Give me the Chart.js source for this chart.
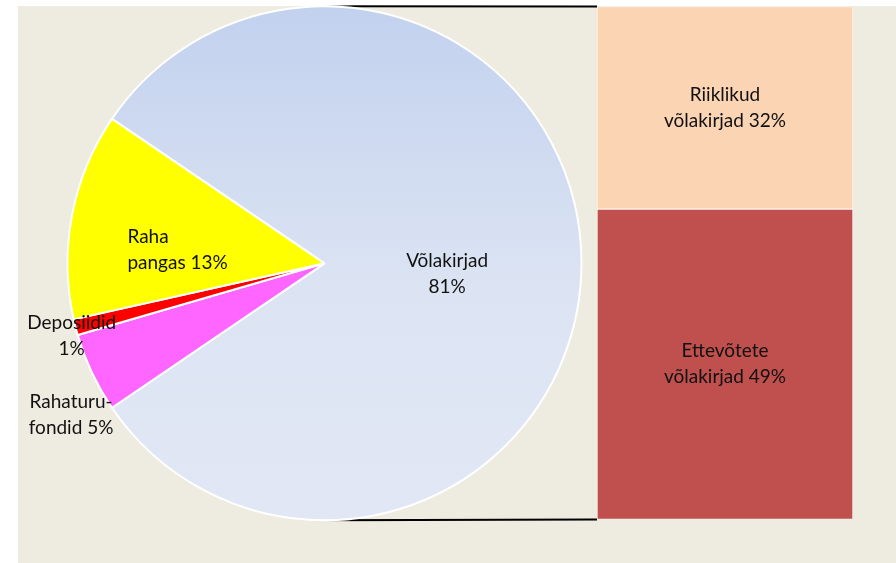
<!DOCTYPE html>
<html><head><meta charset="utf-8">
<script src="https://cdn.jsdelivr.net/npm/chart.js@4.4.1/dist/chart.umd.min.js"></script>
<style>
html,body{margin:0;padding:0;background:#fff;}
#wrap{position:relative;width:896px;height:563px;overflow:hidden;}
#bg{position:absolute;left:18px;top:6px;right:0;bottom:0;background:#EEEBE0;}
canvas{position:absolute;left:0;top:0;}
</style></head><body>
<div id="wrap"><div id="bg"></div>
<canvas id="bar" width="896" height="563"></canvas>
<canvas id="pie" width="896" height="563"></canvas>
</div>
<script>
// ---- data ----
const pieLabels = ['Võlakirjad', 'Rahaturufondid', 'Deposiidid', 'Raha pangas'];
const pieValues = [81, 5, 1, 13];
const pieLabelLines = [['Võlakirjad', ''], ['Rahaturu-', 'fondid'], ['Deposiidid', ''], ['Raha', 'pangas']];
const pieColors = ['#C3D2EE', '#FF66FF', '#FF0000', '#FFFF00'];

const barLabels = ['Riiklikud võlakirjad', 'Ettevõtete võlakirjad'];
const barValues = [32, 49];
const barLabelLines = [['Riiklikud', 'võlakirjad'], ['Ettevõtete', 'võlakirjad']];
const barColors = ['#FBD4B4', '#C0504D'];

const FONT = '19px Lato, "Open Sans", sans-serif';
const TEXT = '#111111';
const LINE_H = 26;

function labelText(lines, v) {
  return [lines[0], (lines[1] + ' ' + v + '%').trim()];
}

// ---- bar of pie: stacked bar ----
const barTotal = barValues.reduce((a, b) => a + b, 0);
const barDatasets = barValues.map((v, i) => ({
  label: barLabels[i], data: [v], backgroundColor: barColors[i],
  borderColor: 'rgba(255,255,255,0.55)', borderWidth: 1, borderSkipped: false,
  barPercentage: 1, categoryPercentage: 1, _idx: i
})).reverse();

const barLabelPlugin = {
  id: 'barLabels',
  afterDatasetsDraw(chart) {
    const ctx = chart.ctx;
    ctx.save();
    ctx.font = FONT; ctx.fillStyle = TEXT; ctx.textAlign = 'center'; ctx.textBaseline = 'middle';
    chart.data.datasets.forEach((ds, di) => {
      const el = chart.getDatasetMeta(di).data[0];
      const i = ds._idx;
      const mid = (el.y + el.base) / 2;
      const lines = labelText(barLabelLines[i], barValues[i]);
      ctx.fillText(lines[0], el.x, mid - LINE_H / 2);
      ctx.fillText(lines[1], el.x, mid + LINE_H / 2);
    });
    ctx.restore();
  }
};

const barChart = new Chart(document.getElementById('bar'), {
  type: 'bar',
  data: { labels: [''], datasets: barDatasets },
  options: {
    responsive: false, animation: false, devicePixelRatio: 1,
    layout: { padding: { left: 597, right: 43, top: 6.5, bottom: 43.5 } },
    scales: {
      x: { display: false, stacked: true },
      y: { display: false, stacked: true, min: 0, max: barTotal }
    },
    plugins: { legend: { display: false }, tooltip: { enabled: false } }
  },
  plugins: [barLabelPlugin]
});

// ---- pie ----
const R = 257;
const pieLabelPos = [
  { dx: 0.477, dy: 0.043, align: 'center' },
  { dx: -0.986, dy: 0.591, align: 'center' },
  { dx: -0.984, dy: 0.284, align: 'center' },
  { dx: -0.767, dy: -0.051, align: 'left' }
];

const connectorPlugin = {
  id: 'connectors',
  beforeDatasetsDraw(chart) {
    const el = chart.getDatasetMeta(0).data[0];
    if (!el) return;
    const cx = el.x, cy = el.y, r = el.outerRadius;
    const ca = barChart.chartArea;
    const ctx = chart.ctx;
    ctx.save();
    const g = ctx.createLinearGradient(cx, 0, cx + 28, 0);
    g.addColorStop(0, 'rgba(0,0,0,0)');
    g.addColorStop(1, 'rgba(0,0,0,1)');
    ctx.strokeStyle = g; ctx.lineWidth = 2;
    ctx.beginPath();
    ctx.moveTo(cx, cy - r); ctx.lineTo(ca.left, ca.top);
    ctx.moveTo(cx, cy + r); ctx.lineTo(ca.left, ca.bottom);
    ctx.stroke();
    ctx.restore();
  }
};

const pieLabelPlugin = {
  id: 'pieLabels',
  afterDatasetsDraw(chart) {
    const meta = chart.getDatasetMeta(0);
    const el0 = meta.data[0];
    const cx = el0.x, cy = el0.y, r = el0.outerRadius;
    const ctx = chart.ctx;
    ctx.save();
    ctx.font = FONT; ctx.fillStyle = TEXT; ctx.textBaseline = 'middle';
    pieValues.forEach((v, i) => {
      const p = pieLabelPos[i];
      const x = cx + p.dx * r, y = cy + p.dy * r;
      const lines = labelText(pieLabelLines[i], v);
      ctx.textAlign = p.align;
      ctx.fillText(lines[0], x, y - LINE_H / 2);
      ctx.fillText(lines[1], x, y + LINE_H / 2);
    });
    ctx.restore();
  }
};

new Chart(document.getElementById('pie'), {
  type: 'pie',
  data: {
    labels: pieLabels,
    datasets: [{
      data: pieValues,
      radius: R,
      backgroundColor: (c) => {
        if (c.dataIndex !== 0) return pieColors[c.dataIndex];
        const ca = c.chart.chartArea;
        if (!ca) return pieColors[0];
        const cy = (ca.top + ca.bottom) / 2;
        const g = c.chart.ctx.createLinearGradient(0, cy - R, 0, cy + R);
        g.addColorStop(0, '#C2D1EE');
        g.addColorStop(0.55, '#DCE4F3');
        g.addColorStop(1, '#E1E7F5');
        return g;
      },
      borderColor: '#FFFFFF',
      borderWidth: 2
    }]
  },
  options: {
    responsive: false, animation: false, devicePixelRatio: 1,
    rotation: 90 - 1.8 * pieValues[0],
    layout: { padding: { left: 67, right: 314, top: 5.3, bottom: 41.7 } },
    plugins: { legend: { display: false }, tooltip: { enabled: false } }
  },
  plugins: [connectorPlugin, pieLabelPlugin]
});
</script>
</body></html>
